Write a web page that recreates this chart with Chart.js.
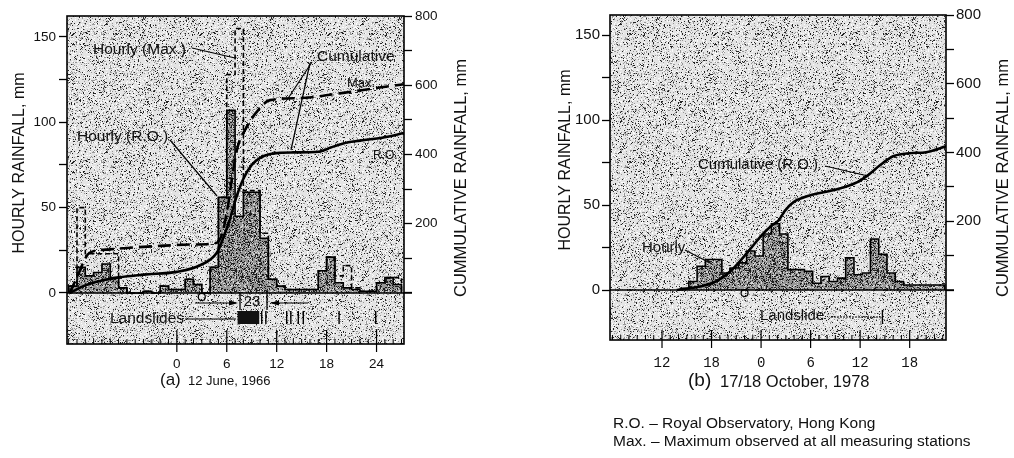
<!DOCTYPE html>
<html><head><meta charset="utf-8">
<script src="https://cdn.jsdelivr.net/npm/chart.js@4.4.1/dist/chart.umd.min.js"></script>
<style>
html,body{margin:0;padding:0;background:#fff;width:1014px;height:458px;overflow:hidden}
#ca{position:absolute;left:0;top:0}
#cb{position:absolute;left:514px;top:0}
</style></head><body>
<canvas id="ca" width="500" height="458"></canvas>
<canvas id="cb" width="500" height="458"></canvas>
<script>
// ===== (a) 12 June, 1966 =====
const hoursA = [-13,-12,-11,-10,-9,-8,-7,-6,-5,-4,-3,-2,-1,0,1,2,3,4,5,6,7,8,9,10,11,12,13,14,15,16,17,18,19,20,21,22,23,24,25,26];
const hourlyRoA  = [4,15,10,12,17,9,3,0,0,1,0,4,2,2,8,5,0,15,56,107,45,59,59,32,8,4,2,2,2,2,13,21,6,3,2,1,1,6,9,5];
const hourlyMaxA = [4,50,23,23,23,23,3,0,0,1,0,4,2,2,8,5,0,15,56,128,155,60,60,35,8,4,2,2,2,2,13,21,10,16,3,1,1,6,9,9];
const cumHoursA = [-12.9,-11,-9,-7,-4,0,2.8,4.8,5.6,6.4,7.2,8.0,9.0,10.0,11.0,12.5,14,17,18.5,20,22,25,27.3];
const cumRoA    = [0,22,36,45,53,61,80,116,160,215,280,330,370,390,400,405,406,408,420,432,440,450,462];
const cumMaxHoursA = [-12.9,-12,-11,-10.5,-8,-6,-2,2,4.8,5.5,6.2,6.8,7.4,8.2,9.5,11.2,14.8,20,24,27.3];
const cumMaxA      = [0,45,100,116,126,130,136,140,145,175,260,360,430,471,520,557,563,578,592,603];
const landslideBlockA = [7.3, 9.9];
const landslideHoursA = [10.2,10.7,13.2,13.7,14.6,15.2,19.5,23.9];
const xMajorA = [0,6,12,18,24];
const xLabelsA = ['0','6','12','18','24'];

// ===== (b) 17/18 October, 1978 =====
const hoursB = [-9.75,-8.75,-7.75,-6.75,-5.75,-4.75,-3.75,-2.75,-1.75,-0.75,0.25,1.25,2.25,3.25,4.25,5.25,6.25,7.25,8.25,9.25,10.25,11.25,12.25,13.25,14.25,15.25,16.25,17.25,18.25,19.25,20.25,21.25];
const hourlyB = [1,5,14,18,18,10,13,16,23,20,33,39,33,12,12,11,4,8,5,7,19,9,10,30,21,10,5,3,3,3,3,3];
const cumHoursB = [-10.2,-7.4,-5.3,-3.4,-1.7,0.25,1.3,2.1,2.9,3.9,5.9,8.7,11.6,13,14.4,16,18,20,22.4];
const cumB      = [0,10,27,62,108,164,188,202,231,255,275,290,313,335,363,389,398,401,418];
const landslideHourB = 14.7;
const xMajorB = [-12,-6,0,6,12,18];
const xLabelsB = ['12','18','0','6','12','18'];

// ===== axis ticks =====
const hourlyTicks = [0,25,50,75,100,125,150];
const hourlyTickLabels = ['0','','50','','100','','150'];
const cumTicks = [0,100,200,300,400,500,600,700,800];
const cumTickLabels = ['','','200','','400','','600','','800'];

// ---------- helpers ----------
function hash3(x,y,s){
  let n=(Math.imul(x|0,374761393)+Math.imul(y|0,668265263)+Math.imul(s|0,1442695041))|0;
  n=Math.imul(n^(n>>>13),1274126177); n=n^(n>>>16);
  return (n>>>0)/4294967296;
}
function stippleTile(base, layers, seed){
  const size=128, c=document.createElement('canvas'); c.width=c.height=size;
  const g=c.getContext('2d'), im=g.createImageData(size,size);
  for(let y=0;y<size;y++)for(let x=0;x<size;x++){
    const p=hash3(x,y,seed); let col=base, acc=0;
    for(const [pr,cc] of layers){acc+=pr; if(p<acc){col=cc;break;}}
    const i=(y*size+x)*4; im.data[i]=im.data[i+1]=im.data[i+2]=col; im.data[i+3]=255;
  }
  g.putImageData(im,0,0); return c;
}
const bgTile = stippleTile(228, [[0.08,35],[0.12,150],[0.12,252]], 7);
const barTile = stippleTile(150, [[0.28,30],[0.15,215]], 11);

function stepPoints(h, v, w){
  const n=h.length, pts=[{x:h[0],y:0}];
  for(let i=0;i<n;i++) pts.push({x:h[i],y:v[i]});
  pts.push({x:h[n-1]+w,y:v[n-1]}); pts.push({x:h[n-1]+w,y:0});
  return pts;
}
function linePoints(h, v){ return h.map((x,i)=>({x:x,y:v[i]})); }

const FONT='"Liberation Sans", Arial, sans-serif';
function txt(ctx,s,x,y,size,align,font){
  ctx.font=size+'px '+(font||FONT); ctx.textAlign=align||'left'; ctx.textBaseline='middle';
  ctx.fillStyle='#111'; ctx.fillText(s,x,y);
}
function vtxt(ctx,s,x,y,size){
  ctx.save(); ctx.translate(x,y); ctx.rotate(-Math.PI/2);
  ctx.font=size+'px '+FONT; ctx.textAlign='center'; ctx.textBaseline='middle'; ctx.fillStyle='#111';
  ctx.fillText(s,0,0); ctx.restore();
}
function line(ctx,x1,y1,x2,y2,w,dash){
  ctx.save(); ctx.strokeStyle='#000'; ctx.lineWidth=w||1; ctx.setLineDash(dash||[]);
  ctx.beginPath(); ctx.moveTo(x1,y1); ctx.lineTo(x2,y2); ctx.stroke(); ctx.restore();
}
function arrowHead(ctx,x,y,dir){
  ctx.save(); ctx.fillStyle='#000'; ctx.beginPath();
  ctx.moveTo(x,y); ctx.lineTo(x-dir*9,y-2.5); ctx.lineTo(x-dir*9,y+2.5); ctx.closePath(); ctx.fill(); ctx.restore();
}

function makeChart(id, cfg){
  const cv=document.getElementById(id), ctx=cv.getContext('2d');
  const bgPat=ctx.createPattern(bgTile,'repeat'), barPat=ctx.createPattern(barTile,'repeat');
  const ratio=800/cfg.yMax;
  const datasets=cfg.datasets(barPat);
  const plugin={
    id:'deco'+id,
    beforeDraw(chart){
      const a=chart.chartArea, c=chart.ctx;
      c.save(); c.fillStyle=bgPat; c.fillRect(a.left,a.top,a.right-a.left,a.bottom-a.top); c.restore();
    },
    afterDraw(chart){
      const a=chart.chartArea, c=chart.ctx, xs=chart.scales.x, ys=chart.scales.y;
      const y0=ys.getPixelForValue(0);
      c.save(); c.strokeStyle='#000'; c.lineWidth=1.6; c.strokeRect(a.left,a.top,a.right-a.left,a.bottom-a.top); c.restore();
      line(c,a.left,y0,a.right+8,y0,1.6);
      for(let h=Math.ceil(xs.min);h<=Math.floor(xs.max);h++){
        const x=xs.getPixelForValue(h);
        if(cfg.xMajor.includes(h)) line(c,x,a.bottom-cfg.majIn,x,a.bottom+8,1.2);
        else line(c,x,a.bottom-5,x,a.bottom,1);
      }
      cfg.annotate(c,chart,xs,ys,y0);
    }
  };
  return new Chart(ctx,{
    type:'line',
    data:{datasets},
    options:{
      responsive:false, animation:false, events:[],
      layout:{padding:cfg.padding},
      plugins:{legend:{display:false},tooltip:{enabled:false}},
      elements:{point:{radius:0}},
      scales:{
        x:{type:'linear',min:cfg.xMin,max:cfg.xMax,
           afterBuildTicks:s=>{const t=[];for(let h=Math.ceil(cfg.xMin);h<=Math.floor(cfg.xMax);h++)t.push({value:h});s.ticks=t;},
           ticks:{autoSkip:false,maxRotation:0,padding:cfg.xPad,color:'#111',font:{family:cfg.xFont,size:cfg.xFontSize},
             callback:v=>{const i=cfg.xMajor.indexOf(v);return i>=0?cfg.xLabels[i]:'';}},
           grid:{display:false},border:{display:false},
           afterFit:s=>{s.height=40;}},
        y:{position:'left',min:cfg.yMin,max:cfg.yMax,
           afterBuildTicks:s=>{s.ticks=hourlyTicks.map(v=>({value:v}));},
           ticks:{autoSkip:false,padding:cfg.yPad,color:'#111',font:{family:FONT,size:cfg.yFontSize},
             callback:v=>{const i=hourlyTicks.indexOf(v);return i>=0?hourlyTickLabels[i]:'';}},
           grid:{drawOnChartArea:false,drawTicks:true,tickLength:8,color:'#000',tickColor:'#000',tickWidth:1.3},
           border:{display:false},
           afterFit:s=>{s.width=cfg.yWidth;}},
        y2:{position:'right',min:cfg.yMin*ratio,max:800,
           afterBuildTicks:s=>{s.ticks=cumTicks.map(v=>({value:v}));},
           ticks:{autoSkip:false,padding:cfg.y2Pad,color:'#111',font:{family:FONT,size:cfg.yFontSize},
             callback:v=>{const i=cumTicks.indexOf(v);return i>=0?cumTickLabels[i]:'';}},
           grid:{drawOnChartArea:false,drawTicks:true,tickLength:8,color:'#000',tickColor:'#000',tickWidth:1.3},
           border:{display:false},
           afterFit:s=>{s.width=cfg.y2Width;}}
      }
    },
    plugins:[plugin]
  });
}

// ---------- chart (a) ----------
makeChart('ca',{
  xMin:-13.2,xMax:27.3,yMin:-29.9,yMax:162.3,
  padding:{left:0,top:16,right:36,bottom:74},
  yWidth:67,y2Width:60,yPad:3,y2Pad:3,xPad:4,majIn:14,yFontSize:13.5,
  xMajor:xMajorA,xLabels:xLabelsA,xFont:FONT,xFontSize:13.5,
  datasets:(barPat)=>[
    {data:stepPoints(hoursA,hourlyRoA,1),stepped:'before',borderColor:'#000',borderWidth:1.6,fill:'origin',backgroundColor:barPat,yAxisID:'y',order:5},
    {data:stepPoints(hoursA,hourlyMaxA,1),stepped:'before',borderColor:'#000',borderWidth:1.6,borderDash:[5,3],fill:false,yAxisID:'y',order:4},
    {data:linePoints(cumMaxHoursA,cumMaxA),borderColor:'#000',borderWidth:2.6,borderDash:[13,6],cubicInterpolationMode:'monotone',fill:false,yAxisID:'y2',order:2},
    {data:linePoints(cumHoursA,cumRoA),borderColor:'#000',borderWidth:2.6,cubicInterpolationMode:'monotone',fill:false,yAxisID:'y2',order:1}
  ],
  annotate:(c,chart,xs,ys,y0)=>{
    txt(c,'Hourly (Max.)',93,50,15.5); line(c,192,48,235,58,1.2);
    txt(c,'Cumulative',317,57,15.5); line(c,312,62,287,100,1.2); line(c,310,63,291,150,1.2);
    txt(c,'Max.',347,83,13);
    txt(c,'R.O.',373,156,12);
    txt(c,'Hourly (R.O.)',77,137,15.5); line(c,170,140,217,196,1.2);
    line(c,195,303,236,303,1.2); arrowHead(c,238,303,1);
    line(c,240,292,240,310,1.3); txt(c,'23',252,302,15,'center'); line(c,267,290,267,310,1.3);
    line(c,272,303,308,303,1.2); arrowHead(c,270,303,-1);
    txt(c,'Landslides',110,319,15.5); line(c,185,319,236,319,1.2);
    const b0=xs.getPixelForValue(landslideBlockA[0]), b1=xs.getPixelForValue(landslideBlockA[1]);
    c.save(); c.fillStyle='#111'; c.fillRect(b0,311,b1-b0,13); c.restore();
    landslideHoursA.forEach(h=>{const x=xs.getPixelForValue(h); line(c,x,311,x,324,1.4);});
    c.save(); c.strokeStyle='#000'; c.lineWidth=1.2; c.beginPath(); c.arc(xs.getPixelForValue(3.0),y0+4,3.5,0,Math.PI*2); c.stroke(); c.restore();
    vtxt(c,'HOURLY RAINFALL, mm',20,163,16);
    vtxt(c,'CUMMULATIVE RAINFALL, mm',461,178,16.5);
    txt(c,'(a)',160,380,17); txt(c,'12 June, 1966',188,381,13);
  }
});

// ---------- chart (b) ----------
makeChart('cb',{
  xMin:-18.3,xMax:22.4,yMin:-29.4,yMax:161.8,
  padding:{left:0,top:15,right:28,bottom:78},
  yWidth:96,y2Width:40,yPad:2,y2Pad:2,xPad:7,majIn:10,yFontSize:15,
  xMajor:xMajorB,xLabels:xLabelsB,xFont:'"Liberation Mono", monospace',xFontSize:14,
  datasets:(barPat)=>[
    {data:stepPoints(hoursB,hourlyB,1),stepped:'before',borderColor:'#000',borderWidth:1.6,fill:'origin',backgroundColor:barPat,yAxisID:'y',order:5},
    {data:linePoints(cumHoursB,cumB),borderColor:'#000',borderWidth:2.6,cubicInterpolationMode:'monotone',fill:false,yAxisID:'y2',order:1}
  ],
  annotate:(c,chart,xs,ys,y0)=>{
    txt(c,'Cumulative (R.O.)',184,165,15); line(c,311,166,354,176,1.2);
    txt(c,'Hourly',128,248,15); line(c,171,250,198,264,1.2);
    txt(c,'Landslide',246,316,15);
    const xl=xs.getPixelForValue(landslideHourB);
    line(c,317,317,xl,317,1.2,[2,1]); line(c,xl,310,xl,324,1.4);
    c.save(); c.strokeStyle='#000'; c.lineWidth=1.2; c.beginPath(); c.arc(xs.getPixelForValue(-2),y0+3,3.5,0,Math.PI*2); c.stroke(); c.restore();
    vtxt(c,'HOURLY RAINFALL, mm',52,160,16);
    vtxt(c,'CUMMULATIVE RAINFALL, mm',489,178,16.5);
    txt(c,'(b)',174,381,19); txt(c,'17/18 October, 1978',206,382,16.5);
    txt(c,'R.O. \u2013 Royal Observatory, Hong Kong',99,424,15.5);
    txt(c,'Max. \u2013 Maximum observed at all measuring stations',99,442,15.5);
  }
});
</script>
</body></html>
